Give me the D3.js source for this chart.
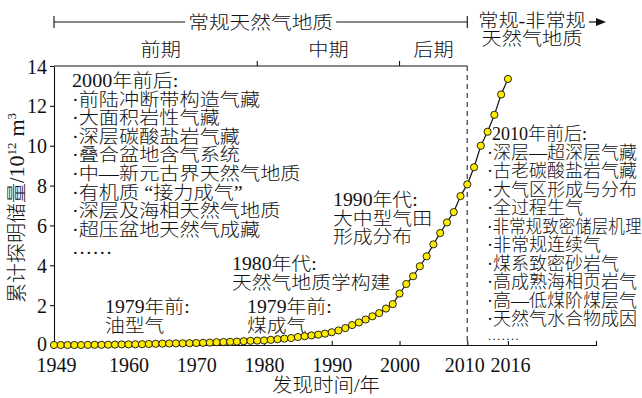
<!DOCTYPE html>
<html>
<head>
<meta charset="utf-8">
<script src="https://cdn.jsdelivr.net/npm/d3@7"></script>
<style>
  html, body { margin: 0; padding: 0; background: #fff; }
  svg text { font-family: 'Liberation Serif', 'Noto Sans CJK SC', serif; fill: #111; font-weight: 300; }
</style>
</head>
<body>
<svg id="chart" width="642" height="398"></svg>
<script>
// Cumulative proven natural gas reserves, 10^12 m^3, by discovery year
const years = [1949,1950,1951,1952,1953,1954,1955,1956,1957,1958,1959,1960,1961,1962,1963,1964,1965,
  1966,1967,1968,1969,1970,1971,1972,1973,1974,1975,1976,1977,1978,1979,1980,1981,1982,1983,1984,1985,
  1986,1987,1988,1989,1990,1991,1992,1993,1994,1995,1996,1997,1998,1999,2000,2001,2002,2003,2004,2005,
  2006,2007,2008,2009,2010,2011,2012,2013,2014,2015,2016];
const reserves = [0,0,0,0,0,0.005,0.01,0.01,0.015,0.02,0.03,0.03,0.035,0.04,0.05,0.06,0.07,
  0.075,0.08,0.085,0.09,0.1,0.11,0.12,0.14,0.15,0.16,0.17,0.19,0.21,0.22,0.23,0.26,0.29,0.32,0.35,0.4,
  0.44,0.48,0.52,0.57,0.64,0.73,0.85,1.0,1.13,1.28,1.44,1.6,1.83,2.05,2.58,3.06,3.45,3.95,4.45,5.05,
  5.62,6.15,6.67,7.47,8.06,8.92,10.0,10.7,11.55,12.57,13.35];

const xTicks = [1949, 1960, 1970, 1980, 1990, 2000, 2010, 2016];
const yTicks = [0, 2, 4, 6, 8, 10, 12, 14];

// Exploration stages
const stageBounds = [1949, 1979, 2000, 2010];
const stageNames = ['前期', '中期', '后期'];
const eraNames = ['常规天然气地质', '常规-非常规', '天然气地质'];

// Milestone notes
const note2000 = ['2000年前后:', '·前陆冲断带构造气藏', '·大面积岩性气藏', '·深层碳酸盐岩气藏',
  '·叠合盆地含气系统', '·中—新元古界天然气地质', '·有机质 “接力成气”', '·深层及海相天然气地质',
  '·超压盆地天然气成藏', '……'];
const note1979a = ['1979年前:', '油型气'];
const note1980 = ['1980年代:', '天然气地质学构建'];
const note1979b = ['1979年前:', '煤成气'];
const note1990 = ['1990年代:', '大中型气田', '形成分布'];
const note2010 = ['2010年前后:', '·深层—超深层气藏', '·古老碳酸盐岩气藏', '·大气区形成与分布',
  '·全过程生气', '·非常规致密储层机理', '·非常规连续气', '·煤系致密砂岩气', '·高成熟海相页岩气',
  '·高—低煤阶煤层气', '·天然气水合物成因', '.......'];

const xAxisTitle = '发现时间/年';

const data = years.map((yr, i) => ({ year: yr, value: reserves[i] }));

const svg = d3.select('#chart');
const x = d3.scaleLinear().domain([1949, 2029]).range([54, 596]);
const y = d3.scaleLinear().domain([0, 14]).range([345, 66]);

// horizontally widened text, like the wide Song-style glyphs
function wtext(g, px, py, str, size, sx, anchor) {
  return g.append('text')
    .attr('transform', `translate(${px},${py}) scale(${sx},1)`)
    .attr('font-size', size)
    .attr('text-anchor', anchor || 'start')
    .text(str);
}

// ---- axes ----
const yAxis = d3.axisLeft(y).tickValues(yTicks).tickSize(4).tickSizeOuter(0).tickPadding(3)
  .tickFormat(d3.format('d'));
const gy = svg.append('g').attr('transform', `translate(${x(1949)},0)`).call(yAxis);
gy.selectAll('text').attr('font-size', 20).attr('dy', d => d === 0 ? '0.25em' : '0.35em');

const xAxis = d3.axisBottom(x).tickValues(xTicks).tickSize(-4).tickSizeOuter(-4).tickPadding(13)
  .tickFormat(d3.format('d'));
const gx = svg.append('g').attr('transform', `translate(0,${y(0)})`).call(xAxis);
gx.selectAll('text').attr('font-size', 20)
  .attr('dx', d => d === 2010 ? -3 : d === 2016 ? 2 : d === 1949 ? 2 : 0);
svg.selectAll('.domain, .tick line').attr('stroke', '#111').attr('stroke-width', 1.1);

// top frame with stage boundaries
const frame = svg.append('g').attr('stroke', '#111').attr('stroke-width', 1.1);
frame.append('line').attr('x1', x(1949)).attr('x2', x(2010)).attr('y1', y(14)).attr('y2', y(14));
stageBounds.slice(1, 3).forEach(b => {
  frame.append('line').attr('x1', x(b)).attr('x2', x(b)).attr('y1', y(14)).attr('y2', y(14) - 5);
});
svg.append('line').attr('x1', x(2010)).attr('x2', x(2010)).attr('y1', y(14)).attr('y2', y(0))
  .attr('stroke', '#555').attr('stroke-width', 1.4).attr('stroke-dasharray', '5,4');

// stage names
const stageShift = [5, 0, 0];
stageNames.forEach((s, i) => {
  wtext(svg, (x(stageBounds[i]) + x(stageBounds[i + 1])) / 2 + stageShift[i], 56, s, 18, 1.12, 'middle');
});

// era arrow
const arrowY = 22;
const era = svg.append('g').attr('stroke', '#111').attr('stroke-width', 1.1);
era.append('line').attr('x1', x(1949)).attr('x2', x(2010)).attr('y1', arrowY).attr('y2', arrowY);
era.append('line').attr('x1', x(1949)).attr('x2', x(1949)).attr('y1', arrowY - 6).attr('y2', arrowY + 6);
era.append('line').attr('x1', x(2010)).attr('x2', x(2010)).attr('y1', arrowY - 6).attr('y2', arrowY + 6);
const eraMid = (x(1949) + x(2010)) / 2;
const eraW = 7 * 18 * 1.15;
svg.append('rect')
  .attr('x', eraMid - eraW / 2 - 3).attr('y', arrowY - 5)
  .attr('width', eraW + 6).attr('height', 10).attr('fill', '#fff');
wtext(svg, eraMid, arrowY + 7, eraNames[0], 18, 1.15, 'middle');
wtext(svg, 532, 27, eraNames[1], 18, 1.12, 'middle');
wtext(svg, 532, 45, eraNames[2], 18, 1.12, 'middle');
svg.append('line').attr('x1', 589).attr('x2', 598).attr('y1', arrowY).attr('y2', arrowY)
  .attr('stroke', '#111').attr('stroke-width', 1.2);
svg.append('path').attr('d', `M596,${arrowY - 4}L606,${arrowY}L596,${arrowY + 4}Z`).attr('fill', '#111');

// ---- notes ----
function block(lines, px, py, step, size, sx) {
  return lines.map((l, i) => wtext(svg, px, py + i * step, l, size, sx));
}
block(note2000, 72, 87, 18.6, 18, 1.12);
block(note1979a, 105, 313, 18.5, 18, 1.1);
block(note1980, 232, 270, 18.5, 18, 1.1);
block(note1979b, 247, 313, 18.5, 18, 1.1);
block(note1990, 333, 206, 18.5, 18, 1.1);
const right = block(note2010, 487, 140, 18.5, 18, 1.0);
// heading sits a little right, the long line is set tighter, the ellipsis rides just above the axis
right[0].attr('transform', 'translate(492,140) scale(1.0,1)');
right[5].attr('transform', `translate(487,${140 + 5 * 18.5}) scale(0.92,1)`);
right[11].attr('transform', 'translate(488,340) scale(1,1)')
  .attr('font-size', 12).attr('letter-spacing', 1.6);

// ---- axis titles ----
wtext(svg, 326, 392, xAxisTitle, 19, 1.08, 'middle');
const yt = svg.append('text')
  .attr('transform', 'translate(24,208) rotate(-90)')
  .attr('font-size', 20).attr('text-anchor', 'middle');
yt.append('tspan').text('累计探明储量/');
yt.append('tspan').attr('font-size', 22).text('10');
yt.append('tspan').attr('font-size', 13).attr('dy', -8).text('12');
yt.append('tspan').attr('font-size', 22).attr('dy', 8).attr('dx', 6).text('m');
yt.append('tspan').attr('font-size', 13).attr('dy', -8).text('3');

// ---- reserves curve ----
svg.append('path').datum(data)
  .attr('fill', 'none').attr('stroke', '#111').attr('stroke-width', 1.2)
  .attr('d', d3.line().x(d => x(d.year)).y(d => y(d.value)));
svg.append('g').selectAll('circle').data(data).join('circle')
  .attr('cx', d => x(d.year)).attr('cy', d => y(d.value)).attr('r', 3.6)
  .attr('fill', '#ffeb00').attr('stroke', '#111').attr('stroke-width', 0.9);
</script>
</body>
</html>
